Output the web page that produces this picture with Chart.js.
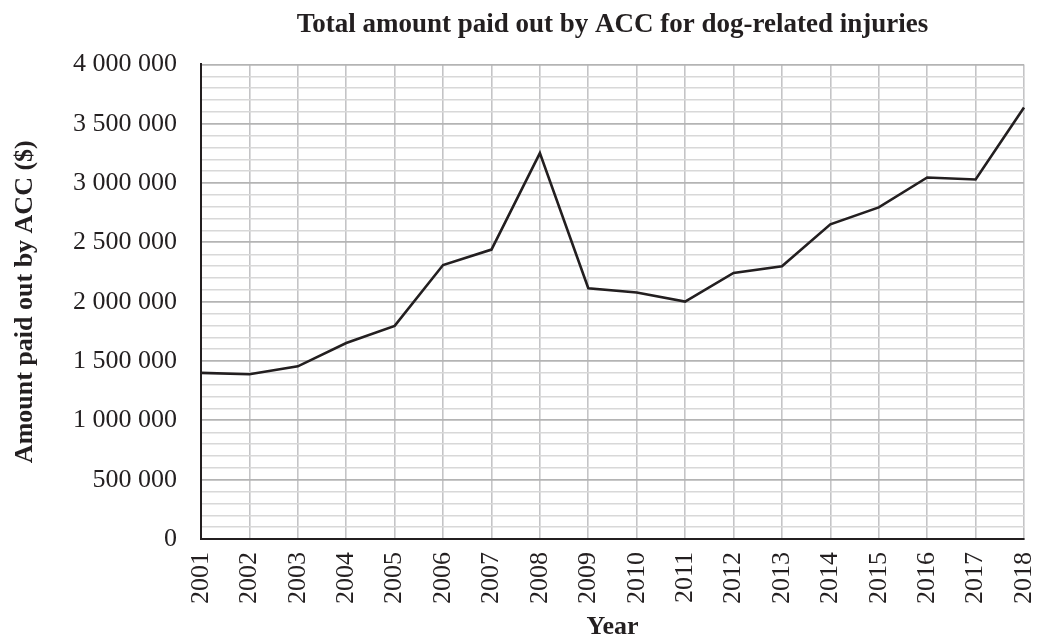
<!DOCTYPE html>
<html lang="en">
<head>
    <meta charset="UTF-8">
    <title>Total amount paid out by ACC for dog-related injuries</title>
    <script src="https://cdn.jsdelivr.net/npm/chart.js"></script>
    <style>
        html, body { margin: 0; padding: 0; background: #fff; }
        #wrap { width: 1037px; height: 643px; }
    </style>
</head>
<body>
    <div id="wrap"><canvas id="myChart"></canvas></div>
    <script>
        // data
        const years = ['2001', '2002', '2003', '2004', '2005', '2006', '2007', '2008', '2009',
                       '2010', '2011', '2012', '2013', '2014', '2015', '2016', '2017', '2018'];
        const amounts = [1400000, 1388000, 1455000, 1652000, 1796000, 2309000, 2439000, 3252000, 2113000,
                         2077000, 2001000, 2242000, 2298000, 2652000, 2795000, 3047000, 3030000, 3637000];
        const yMin = 0;
        const yMax = 4000000;
        const majorStep = 500000;
        const minorStep = 100000;

        const ink = '#231f20';
        const serif = "'Liberation Serif', 'Times New Roman', serif";

        // 4000000 -> "4 000 000"
        function spaced(v) {
            return String(v).replace(/\B(?=(\d{3})+(?!\d))/g, ' ');
        }

        const ctx = document.getElementById('myChart').getContext('2d');

        const myChart = new Chart(ctx, {
            type: 'line',
            data: {
                labels: years,
                datasets: [{
                    label: 'Amount paid out by ACC ($)',
                    data: amounts,
                    borderColor: ink,
                    borderWidth: 2.6,
                    pointRadius: 0,
                    tension: 0,
                    fill: false
                }]
            },
            options: {
                responsive: true,
                maintainAspectRatio: false,
                animation: false,
                layout: { padding: { left: 0, right: 13, top: 0, bottom: 0 } },
                plugins: {
                    legend: { display: false },
                    tooltip: { enabled: false },
                    title: {
                        display: true,
                        fullSize: false, // centre over the plot, not the canvas
                        text: 'Total amount paid out by ACC for dog-related injuries',
                        color: ink,
                        font: { family: serif, size: 27, weight: 'bold' },
                        padding: { top: 9, bottom: 23 }
                    }
                },
                scales: {
                    x: {
                        offset: false,
                        grid: { color: '#c4c4c6', lineWidth: 1.6, drawTicks: false },
                        border: { color: ink, width: 2 },
                        ticks: {
                            color: ink,
                            font: { family: serif, size: 26 },
                            minRotation: 90,
                            maxRotation: 90,
                            autoSkip: false,
                            padding: 13
                        },
                        title: {
                            display: true,
                            text: 'Year',
                            color: ink,
                            font: { family: serif, size: 26, weight: 'bold' },
                            padding: { top: 0, bottom: 0 }
                        },
                        afterFit: function (scale) {
                            scale.height = 104;
                            // keep the plot running right to the last year
                            scale.paddingLeft = 0;
                            scale.paddingRight = 0;
                        }
                    },
                    y: {
                        min: yMin,
                        max: yMax,
                        grid: {
                            drawTicks: false,
                            color: c => (c.tick && c.tick.value % majorStep === 0) ? '#b4b4b4' : '#d8d8d8',
                            lineWidth: c => (c.tick && c.tick.value % majorStep === 0) ? 1.8 : 1.4
                        },
                        border: { color: ink, width: 2 },
                        ticks: {
                            stepSize: minorStep,
                            autoSkip: false,
                            color: ink,
                            font: { family: serif, size: 26 },
                            padding: 24,
                            callback: v => (v % majorStep === 0) ? spaced(v) : ''
                        },
                        title: {
                            display: true,
                            text: 'Amount paid out by ACC ($)',
                            color: ink,
                            font: { family: serif, size: 26, weight: 'bold' },
                            padding: { top: 10, bottom: 0 }
                        },
                        afterFit: function (scale) { scale.width = 201; }
                    }
                }
            }
        });
    </script>
</body>
</html>
